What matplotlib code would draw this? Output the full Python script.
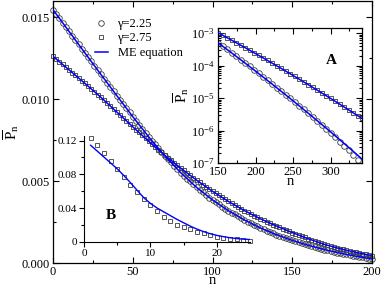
import numpy as np
import matplotlib
matplotlib.use('Agg')
import matplotlib.pyplot as plt
from matplotlib.ticker import MultipleLocator, LogLocator, NullFormatter, FixedLocator, FixedFormatter

plt.rcParams['font.family'] = ['Liberation Serif', 'DejaVu Serif']
plt.rcParams['mathtext.fontset'] = 'custom'
plt.rcParams['mathtext.rm'] = 'Liberation Serif'
plt.rcParams['mathtext.it'] = 'Liberation Serif:italic'
plt.rcParams['mathtext.bf'] = 'Liberation Serif:bold'

# ---------------- main panel data (units of 1e-3) ----------------
n_main = np.arange(0, 201, 2)
p225_sim_e3 = [15.47, 15.21, 14.94, 14.68, 14.41, 14.15, 13.89, 13.62, 13.36, 13.09, 12.83,
               12.57, 12.31, 12.04, 11.78, 11.52, 11.26, 11.00, 10.74, 10.48, 10.22,
               9.96, 9.71, 9.45, 9.20, 8.94, 8.69, 8.45, 8.20, 7.95, 7.70,
               7.47, 7.24, 7.01, 6.78, 6.55, 6.34, 6.14, 5.93, 5.73, 5.52,
               5.34, 5.16, 4.98, 4.80, 4.62, 4.47, 4.31, 4.16, 4.00, 3.85,
               3.72, 3.59, 3.45, 3.32, 3.19, 3.08, 2.97, 2.86, 2.74, 2.63,
               2.53, 2.43, 2.34, 2.24, 2.14, 2.06, 1.98, 1.89, 1.81, 1.73,
               1.66, 1.59, 1.52, 1.45, 1.38, 1.32, 1.26, 1.20, 1.14, 1.08,
               1.03, 0.98, 0.92, 0.87, 0.82, 0.78, 0.73, 0.69, 0.64, 0.60,
               0.56, 0.52, 0.49, 0.45, 0.41, 0.38, 0.34, 0.31, 0.27, 0.24]
p275_sim_e3 = [12.62, 12.46, 12.29, 12.13, 11.96, 11.80, 11.63, 11.47, 11.30, 11.14, 10.97,
               10.80, 10.63, 10.46, 10.29, 10.12, 9.94, 9.76, 9.58, 9.40, 9.22,
               9.04, 8.86, 8.68, 8.50, 8.32, 8.14, 7.97, 7.79, 7.61, 7.43,
               7.26, 7.09, 6.92, 6.75, 6.58, 6.42, 6.27, 6.11, 5.96, 5.80,
               5.65, 5.50, 5.36, 5.21, 5.06, 4.92, 4.79, 4.65, 4.52, 4.38,
               4.26, 4.13, 4.01, 3.88, 3.76, 3.65, 3.54, 3.42, 3.31, 3.20,
               3.10, 3.00, 2.90, 2.80, 2.70, 2.61, 2.52, 2.44, 2.35, 2.26,
               2.18, 2.10, 2.02, 1.94, 1.86, 1.78, 1.71, 1.63, 1.56, 1.48,
               1.41, 1.34, 1.28, 1.21, 1.14, 1.09, 1.03, 0.98, 0.92, 0.87,
               0.83, 0.78, 0.74, 0.69, 0.65, 0.61, 0.57, 0.53, 0.49, 0.45]
n_me = np.arange(0, 201, 10)
p225_me_e3 = [15.47, 14.15, 12.83, 11.52, 10.22, 8.94, 7.70, 6.55, 5.52, 4.62, 3.85,
              3.19, 2.63, 2.14, 1.73, 1.38, 1.08, 0.82, 0.60, 0.41, 0.24]
p275_me_e3 = [12.62, 11.80, 10.97, 10.12, 9.22, 8.32, 7.43, 6.58, 5.80, 5.06, 4.38,
              3.76, 3.20, 2.70, 2.26, 1.86, 1.48, 1.14, 0.87, 0.65, 0.45]

# ---------------- inset A data (log10 P) ----------------
nA = np.arange(150, 343, 6)
logA_275 = [-2.990, -3.065, -3.141, -3.217, -3.294, -3.371, -3.448, -3.526, -3.605, -3.684,
            -3.763, -3.843, -3.924, -4.005, -4.086, -4.168, -4.250, -4.333, -4.416, -4.500,
            -4.584, -4.668, -4.753, -4.839, -4.925, -5.011, -5.098, -5.186, -5.274, -5.362,
            -5.451, -5.540, -5.630]
logA_225_me = [-3.300, -3.402, -3.505, -3.609, -3.713, -3.818, -3.923, -4.029, -4.136, -4.243,
               -4.351, -4.459, -4.568, -4.678, -4.788, -4.899, -5.010, -5.122, -5.235, -5.349,
               -5.462, -5.577, -5.692, -5.808, -5.924, -6.041, -6.159, -6.277, -6.396, -6.515,
               -6.635, -6.756, -6.877]
logA_225_sim = [-3.300, -3.402, -3.505, -3.609, -3.713, -3.818, -3.923, -4.029, -4.136, -4.243,
                -4.351, -4.459, -4.568, -4.678, -4.788, -4.899, -5.010, -5.122, -5.235, -5.349,
                -5.462, -5.577, -5.692, -5.820, -5.950, -6.080, -6.210, -6.340, -6.470, -6.600,
                -6.750, -6.900]

# ---------------- inset B data ----------------
nB = np.arange(1, 26)
pB_sim = [0.1231, 0.1144, 0.1056, 0.0961, 0.0866, 0.0772, 0.0677, 0.0590, 0.0503, 0.0432,
          0.0361, 0.0297, 0.0242, 0.0204, 0.0171, 0.0145, 0.0119, 0.0100, 0.0083, 0.0059,
          0.0047, 0.0036, 0.0028, 0.0020, 0.0012]
pB_me = [0.1145, 0.1075, 0.1005, 0.0935, 0.0865, 0.0785, 0.0700, 0.0610, 0.0522, 0.0455,
         0.0400, 0.0355, 0.0310, 0.0265, 0.0225, 0.0185, 0.0150, 0.0120, 0.0095, 0.0075,
         0.0060, 0.0047, 0.0037, 0.0030, 0.0026]

BLUE = '#0000ff'
MEC = '#3a3a3a'
W, H = 382, 287

fig = plt.figure(figsize=(W / 100, H / 100), dpi=100)

def fx(px):
    return px / W

def fy(py):
    return 1 - py / H

# main axes
ax = fig.add_axes([fx(53), fy(263), fx(372) - fx(53), fy(1) - fy(263)])
ax.plot(n_main, np.array(p225_sim_e3) * 1e-3, 'o', ms=4.0, mfc='none', mec=MEC, mew=0.6,
        clip_on=False, label='\u03b3=2.25', zorder=2)
ax.plot(n_main, np.array(p275_sim_e3) * 1e-3, 's', ms=3.4, mfc='none', mec=MEC, mew=0.6,
        clip_on=False, label='\u03b3=2.75', zorder=2)
ax.plot(n_me, np.array(p225_me_e3) * 1e-3, '-', color=BLUE, lw=1.1, label='ME equation', zorder=3)
ax.plot(n_me, np.array(p275_me_e3) * 1e-3, '-', color=BLUE, lw=1.1, zorder=3)
ax.set_xlim(0, 200)
ax.set_ylim(0, 0.016)
ax.xaxis.set_major_locator(MultipleLocator(50))
ax.xaxis.set_minor_locator(MultipleLocator(25))
ax.yaxis.set_major_locator(FixedLocator([0, 0.005, 0.010, 0.015]))
ax.yaxis.set_major_formatter(FixedFormatter(['0.000', '0.005', '0.010', '0.015']))
ax.yaxis.set_minor_locator(MultipleLocator(0.0025))
ax.tick_params(which='both', direction='in', top=True, right=True, labelsize=9)
ax.tick_params(which='major', length=4.5, width=0.8)
ax.tick_params(which='minor', length=2.5, width=0.8)
ax.tick_params(axis='y', pad=2.5)
ax.tick_params(axis='x', pad=2.5)
for s in ax.spines.values():
    s.set_linewidth(0.9)
ax.set_xlabel('n', fontsize=10.5, labelpad=-3.5)
ax.set_ylabel(r'$\overline{\mathrm{P}}_\mathrm{n}$', fontsize=11, labelpad=0)

leg = fig.legend(loc='upper left', bbox_to_anchor=(fx(95), fy(18)), frameon=False,
                 fontsize=9, numpoints=1, handlelength=1.0, handletextpad=0.8,
                 labelspacing=0.2, borderpad=0, borderaxespad=0)

# inset B
axB = fig.add_axes([fx(84), fy(241.7), fx(250) - fx(84), fy(136.4) - fy(241.7)])
axB.patch.set_alpha(0)
axB.plot(nB, pB_sim, 's', ms=3.4, mfc='none', mec=MEC, mew=0.6, clip_on=False)
axB.plot(nB, pB_me, '-', color=BLUE, lw=1.0)
axB.set_xlim(0, 25)
axB.set_ylim(0, 0.125)
axB.spines['top'].set_visible(False)
axB.spines['right'].set_visible(False)
for s in ('left', 'bottom'):
    axB.spines[s].set_linewidth(0.8)
axB.xaxis.set_major_locator(FixedLocator([0, 10, 20]))
axB.xaxis.set_minor_locator(FixedLocator([5, 15]))
axB.yaxis.set_major_locator(FixedLocator([0, 0.04, 0.08, 0.12]))
axB.yaxis.set_major_formatter(FixedFormatter(['0', '0.04', '0.08', '0.12']))
axB.yaxis.set_minor_locator(FixedLocator([0.02, 0.06, 0.10]))
axB.tick_params(which='both', direction='out', labelsize=8, width=0.8)
axB.tick_params(which='major', length=3.5, pad=1.5)
axB.tick_params(which='minor', length=2.0)
axB.text(27 / 166, 0.25, 'B', transform=axB.transAxes, fontsize=11, fontweight='bold',
         ha='center', va='center')

# inset A
axA = fig.add_axes([fx(218), fy(163), fx(362) - fx(218), fy(28) - fy(163)])
axA.set_facecolor('white')
axA.semilogy(nA, 10 ** np.array(logA_275), 's', ms=3.4, mfc='none', mec=MEC, mew=0.6, zorder=2)
axA.semilogy(nA[:len(logA_225_sim)], 10 ** np.array(logA_225_sim), 'o', ms=4.0, mfc='none',
             mec=MEC, mew=0.6, zorder=2)
axA.semilogy(nA, 10 ** np.array(logA_275), '-', color=BLUE, lw=1.1, zorder=3)
axA.semilogy(nA, 10 ** np.array(logA_225_me), '-', color=BLUE, lw=1.1, zorder=3)
axA.set_xlim(150, 342)
axA.set_ylim(1e-7, 1.43e-3)
axA.xaxis.set_major_locator(MultipleLocator(50))
axA.xaxis.set_minor_locator(MultipleLocator(25))
axA.yaxis.set_major_locator(LogLocator(base=10, numticks=10))
axA.yaxis.set_minor_locator(LogLocator(base=10, subs=np.arange(2, 10), numticks=20))
axA.yaxis.set_minor_formatter(NullFormatter())
axA.tick_params(which='both', direction='in', top=True, right=True, labelsize=9, width=0.8)
axA.tick_params(which='major', length=4, pad=2.5)
axA.tick_params(which='minor', length=2)
for s in axA.spines.values():
    s.set_linewidth(0.9)
axA.set_xlabel('n', fontsize=10.5, labelpad=-2.5)
axA.set_ylabel(r'$\overline{\mathrm{P}}_\mathrm{n}$', fontsize=11, labelpad=0)
axA.text((331 - 218) / 144, (163 - 60) / 135, 'A', transform=axA.transAxes, fontsize=11,
         fontweight='bold', ha='center', va='center')

fig.savefig('out.png', dpi=100)
